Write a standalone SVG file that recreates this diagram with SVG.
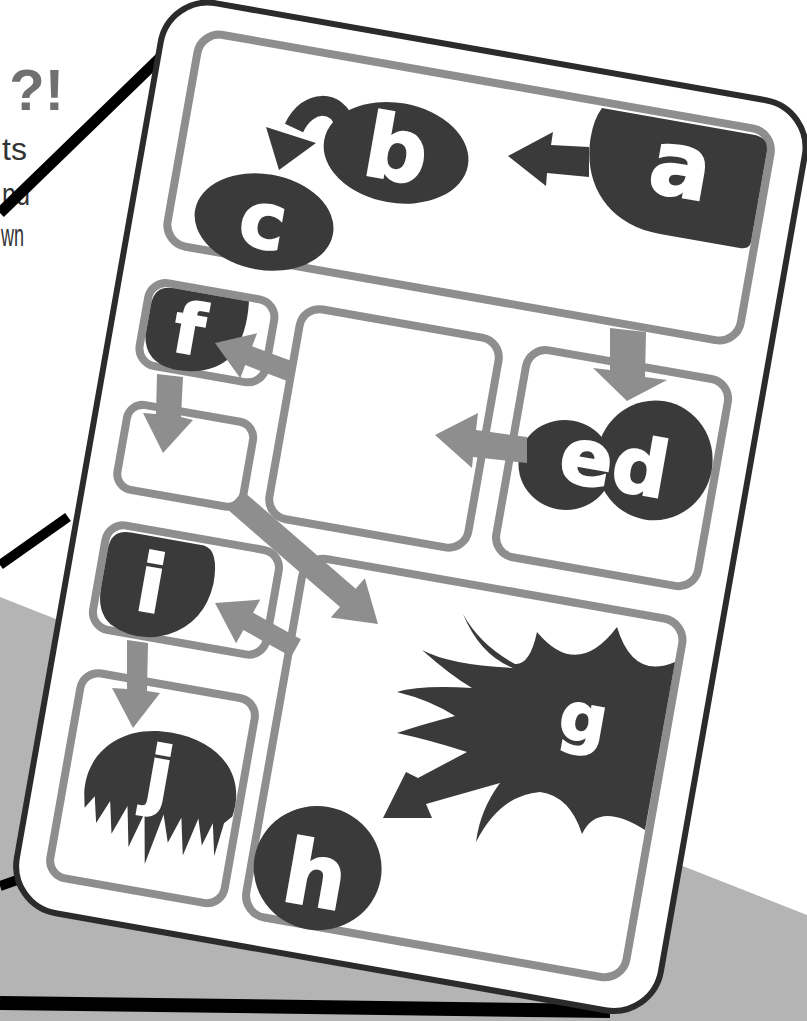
<svg xmlns="http://www.w3.org/2000/svg" width="807" height="1021" viewBox="0 0 807 1021">
<defs>
<style>
.panel{fill:none;stroke:#8e8e8e;stroke-width:8}
.dark{fill:#3a3a3a}
.garrow{fill:#8e8e8e}
.letter{font-family:"DejaVu Sans",sans-serif;font-weight:bold;fill:#fff;stroke:#fff;stroke-width:2;text-anchor:middle}
.body{font-family:"Liberation Sans",Arial,sans-serif;fill:#333}
.callout{stroke:#000;stroke-linecap:butt;fill:none}
</style>
</defs>
<rect width="807" height="1021" fill="#fff"/>
<polygon points="0,597 807,915 807,1021 0,1021" fill="#b4b4b4"/>
<g id="page-text">
<text class="body" x="64" y="110" font-size="58" font-weight="bold" text-anchor="end" style="fill:#707070">?!</text>
<text class="body" x="27" y="160" font-size="32" text-anchor="end">ts</text>
<text class="body" x="2" y="205" font-size="32" textLength="28" lengthAdjust="spacingAndGlyphs">nd</text>
<text class="body" x="1" y="246" font-size="32" textLength="23" lengthAdjust="spacingAndGlyphs">wn</text>
</g>
<g id="callout-lines">
<line class="callout" x1="163" y1="55" x2="0" y2="213" stroke-width="11"/>
<line class="callout" x1="68" y1="517" x2="0" y2="565" stroke-width="10"/>
<line class="callout" x1="0" y1="886" x2="20" y2="879" stroke-width="10"/>
<line class="callout" x1="0" y1="1003" x2="610" y2="1011" stroke-width="14"/>
</g>
<g id="card" transform="translate(169,-5) rotate(10)">
<rect x="0" y="0" width="654" height="924" rx="48" fill="#fff" stroke="#2b2b2b" stroke-width="6"/>
</g>
<g id="panels" transform="translate(169,-5) rotate(10)">
<g id="panel-top"><rect class="panel" x="38" y="30" width="582" height="215" rx="22"/></g>
<g id="panel-f"><rect class="panel" x="32" y="284" width="128" height="84" rx="18"/></g>
<g id="panel-fsub"><rect class="panel" x="32" y="408" width="128" height="86" rx="16"/></g>
<g id="panel-middle"><rect class="panel" x="186" y="283" width="202" height="213" rx="20"/></g>
<g id="panel-ed"><rect class="panel" x="416" y="284" width="205" height="210" rx="20"/></g>
<g id="panel-i"><rect class="panel" x="32" y="530" width="176" height="106" rx="18"/></g>
<g id="panel-j"><rect class="panel" x="33" y="680" width="177" height="208" rx="18"/></g>
<g id="panel-g"><rect class="panel" x="232" y="528" width="386" height="364" rx="22"/></g>
</g>
<g id="nodes">
<g id="node-a" transform="translate(169,-5) rotate(10)">
<path class="dark" d="M446,36 L600,36 Q616,36 616,52 L616,142 Q616,150 606,150 L525,150 C470,150 440,112 440,66 Q440,48 446,36 Z"/>
<text class="letter" x="534" y="110" font-size="90">a</text>
</g>
<g id="node-b" transform="translate(169,-5) rotate(10)">
<ellipse class="dark" cx="251" cy="116" rx="73" ry="50"/>
<text class="letter" x="251" y="143" font-size="88">b</text>
</g>
<g id="node-c" transform="translate(169,-5) rotate(10)">
<ellipse class="dark" cx="133" cy="207" rx="70" ry="48"/>
<text class="letter" x="132" y="233" font-size="78">c</text>
</g>
<g id="node-f" transform="translate(169,-5) rotate(10)">
<path class="dark" d="M36,308 Q36,288 56,288 L132,288 Q136,322 124,345 Q108,368 70,368 Q40,366 36,340 Z"/>
<text class="letter" x="78" y="350" font-size="70">f</text>
</g>
<g id="node-ed" transform="translate(169,-5) rotate(10)">
<ellipse class="dark" cx="472" cy="394" rx="47" ry="45"/>
<ellipse class="dark" cx="559" cy="374" rx="58" ry="60"/>
<text class="letter" x="520" y="410" font-size="78">ed</text>
</g>
<g id="node-i" transform="translate(169,-5) rotate(10)">
<path class="dark" d="M36,556 Q36,536 56,536 L130,536 Q146,538 146,572 Q144,612 110,630 Q80,644 52,630 Q36,620 36,596 Z"/>
<text class="letter" x="85" y="611" font-size="80">i</text>
</g>
<g id="node-j" transform="translate(169,-5) rotate(10)">
<path class="dark" d="M55,800 C50,760 80,726 130,726 C180,726 212,755 205,798 L198,806 L194,840 L187,808 L180,832 L172,806 L163,845 L155,808 L146,835 L137,808 L127,860 L118,810 L108,846 L100,806 L89,836 L82,804 L72,828 L66,802 L58,815 Z"/>
<text class="letter" x="126" y="796" font-size="76">j</text>
</g>
<g id="node-h" transform="translate(169,-5) rotate(10)">
<ellipse class="dark" cx="298" cy="834" rx="64" ry="62"/>
<text class="letter" x="297" y="872" font-size="88">h</text>
</g>
<g id="node-g">
<path class="dark" d="M675,662 Q633,680 617,627 Q577,680 537,632 Q530,665 515,664 Q480,645 463,614 Q480,655 513,668 Q450,665 422,650 Q450,675 472,688 Q420,685 397,692 Q430,700 455,716 Q420,725 397,733 Q430,740 467,752 L418,778 L406,772 L383,818 L432,818 L426,804 L500,783 Q480,810 476,842 Q500,795 540,792 Q570,796 582,834 Q598,800 645,830 Z"/>
<text class="letter" transform="translate(169,-5) rotate(10)" x="534" y="663" font-size="66">g</text>
</g>
</g>
<g id="connectors">
<polygon class="dark" points="589,147 551,145 553,132 508,156 546,186 547,173 589,177"/>
<path d="M345,125 C338,100 308,98 294,128" fill="none" stroke="#3a3a3a" stroke-width="20"/>
<polygon class="dark" points="266,127 316,143 279,170"/>
<polygon class="garrow" points="610,328 646,332 645,377 667,380 627,401 593,368 610,370"/>
<polygon class="garrow" points="527,437 476,430 478,413 435,435 472,468 473,457 527,463"/>
<polygon class="garrow" points="157,374 183,377 181,417 193,420 163,453 143,413 156,414"/>
<polygon class="garrow" points="295.5,362.6 252.2,346.3 257.1,333.2 215,343 240.3,378.2 245.2,365.1 288.5,381.4"/>
<polygon class="garrow" points="300.9,639.3 253.1,612.7 260.3,599.6 215,603 236.1,643.2 243.4,630.1 291.2,656.7"/>
<polygon class="garrow" points="227.1,509.1 340,606.9 330.8,617.4 378,624 364.8,578.2 355.7,588.7 242.9,490.9"/>
<polygon class="garrow" points="127,640 148,643 147,691 160,693 133,728 112,688 127,689"/>
</g>
</svg>
